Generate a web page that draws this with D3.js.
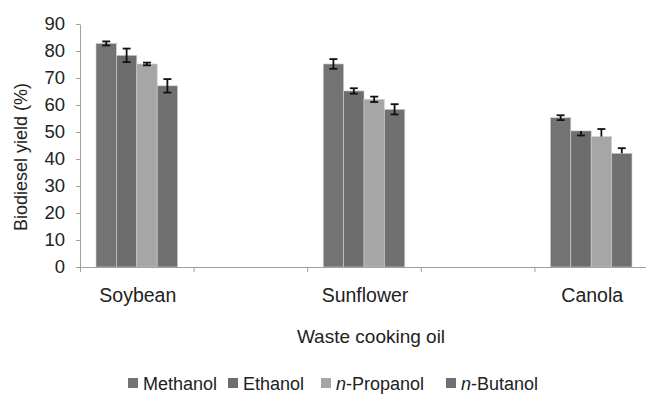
<!DOCTYPE html>
<html>
<head>
<meta charset="utf-8">
<script src="https://cdn.jsdelivr.net/npm/d3@7/dist/d3.min.js"></script>
<style>
  html, body { margin: 0; padding: 0; background: #fff; }
  svg { display: block; font-family: "Liberation Sans", Arial, Helvetica, sans-serif; }
</style>
</head>
<body>
<svg id="chart" width="646" height="401"></svg>
<script>
// Oils on the category axis (blank slots separate the groups)
const categories = ["Soybean", "", "Sunflower", "", "Canola"];
const seriesNames = ["Methanol", "Ethanol", "n-Propanol", "n-Butanol"];

// Biodiesel yield (%) per alcohol, one value per category slot
const methanol  = [82.8, null, 75.2, null, 55.3];
const ethanol   = [78.4, null, 65.2, null, 50.4];
const propanol  = [75.2, null, 62.1, null, 48.3];
const butanol   = [67.1, null, 58.4, null, 42.1];

// Error bar extents above / below each value
const methanolErrPlus  = [0.75, null, 1.8, null, 0.9];
const methanolErrMinus = [0.75, null, 1.8, null, 0.9];
const ethanolErrPlus   = [2.5, null, 1.0, null, 0];
const ethanolErrMinus  = [2.5, null, 1.0, null, 1.7];
const propanolErrPlus  = [0.5, null, 1.0, null, 2.8];
const propanolErrMinus = [0.5, null, 1.0, null, 0];
const butanolErrPlus   = [2.5, null, 1.9, null, 1.9];
const butanolErrMinus  = [2.5, null, 1.9, null, 0];

const yTicks = [0, 10, 20, 30, 40, 50, 60, 70, 80, 90];

const seriesValues = [methanol, ethanol, propanol, butanol];
const seriesErrPlus = [methanolErrPlus, ethanolErrPlus, propanolErrPlus, butanolErrPlus];
const seriesErrMinus = [methanolErrMinus, ethanolErrMinus, propanolErrMinus, butanolErrMinus];
const colors = ["#737373", "#6d6d6d", "#a6a6a6", "#707070"];

const svg = d3.select("#chart");
const plotLeft = 80, plotRight = 648, plotTop = 24, plotBottom = 267;

const x0 = d3.scaleBand().domain(categories.map((c, i) => i)).range([plotLeft, plotRight]).padding(0);
const groupW = x0.bandwidth() * 0.718;
const x1 = d3.scaleBand().domain(seriesNames).range([0, groupW]).padding(0);
const y = d3.scaleLinear().domain([0, 90]).range([plotBottom, plotTop]);

// Bars
seriesNames.forEach((name, s) => {
  const vals = seriesValues[s];
  svg.append("g")
    .selectAll("rect")
    .data(vals.map((v, i) => ({ v, i })).filter(d => d.v !== null))
    .join("rect")
    .attr("x", d => x0(d.i) + (x0.bandwidth() - groupW) / 2 + x1(name))
    .attr("y", d => y(d.v))
    .attr("width", x1.bandwidth())
    .attr("height", d => y(0) - y(d.v))
    .attr("fill", colors[s])
    .attr("stroke", "#d0d0d0")
    .attr("stroke-width", 0.6);
});

// Error bars
seriesNames.forEach((name, s) => {
  const vals = seriesValues[s];
  const g = svg.append("g").attr("stroke", "#111").attr("stroke-width", 1.8);
  vals.forEach((v, i) => {
    if (v === null) return;
    const cx = x0(i) + (x0.bandwidth() - groupW) / 2 + x1(name) + x1.bandwidth() / 2;
    const hi = v + seriesErrPlus[s][i];
    const lo = v - seriesErrMinus[s][i];
    g.append("line").attr("x1", cx).attr("x2", cx).attr("y1", y(hi)).attr("y2", y(lo));
    if (seriesErrPlus[s][i] > 0)
      g.append("line").attr("x1", cx - 4).attr("x2", cx + 4).attr("y1", y(hi)).attr("y2", y(hi));
    if (seriesErrMinus[s][i] > 0)
      g.append("line").attr("x1", cx - 4).attr("x2", cx + 4).attr("y1", y(lo)).attr("y2", y(lo));
  });
});

// Y axis
const yAxis = svg.append("g")
  .attr("transform", `translate(${plotLeft},0)`)
  .call(d3.axisLeft(y).tickValues(yTicks).tickSize(4).tickPadding(11).tickSizeOuter(0));
yAxis.select(".domain").attr("stroke", "#a0a0a0");
yAxis.selectAll(".tick line").attr("stroke", "#a0a0a0");
yAxis.selectAll(".tick text").attr("font-size", 18.5).attr("fill", "#222")
  .attr("font-family", "'Liberation Sans', Arial, sans-serif");

// X axis: ticks on slot boundaries
const xb = d3.scaleLinear().domain([0, categories.length]).range([plotLeft, plotRight]);
const xAxis = svg.append("g")
  .attr("transform", `translate(0,${plotBottom})`)
  .call(d3.axisBottom(xb).tickValues(d3.range(categories.length + 1)).tickSize(5).tickFormat("").tickSizeOuter(0));
xAxis.select(".domain").attr("stroke", "#a0a0a0");
xAxis.selectAll(".tick line").attr("stroke", "#a0a0a0");

// Category labels
svg.append("g")
  .selectAll("text")
  .data(categories.map((c, i) => ({ c, i })).filter(d => d.c !== ""))
  .join("text")
  .attr("x", d => x0(d.i) + x0.bandwidth() / 2 + 1)
  .attr("y", 302)
  .attr("text-anchor", "middle")
  .attr("font-size", 19.5)
  .attr("fill", "#222")
  .text(d => d.c);

// Axis titles
svg.append("text")
  .attr("x", 371).attr("y", 343)
  .attr("text-anchor", "middle")
  .attr("font-size", 19).attr("fill", "#222")
  .text("Waste cooking oil");

svg.append("text")
  .attr("transform", "translate(27,157) rotate(-90)")
  .attr("text-anchor", "middle")
  .attr("font-size", 18).attr("fill", "#222")
  .text("Biodiesel yield (%)");

// Legend
const legendX = [128, 228, 321, 446];
const legend = svg.append("g");
seriesNames.forEach((name, s) => {
  const g = legend.append("g").attr("transform", `translate(${legendX[s]},383)`);
  g.append("rect").attr("x", 0).attr("y", -5).attr("width", 10).attr("height", 10).attr("fill", colors[s]);
  const t = g.append("text").attr("x", 15).attr("y", 6.5).attr("font-size", 18).attr("fill", "#222");
  if (name.startsWith("n-")) {
    t.append("tspan").attr("font-style", "italic").text("n");
    t.append("tspan").text(name.slice(1));
  } else {
    t.text(name);
  }
});
</script>
</body>
</html>
